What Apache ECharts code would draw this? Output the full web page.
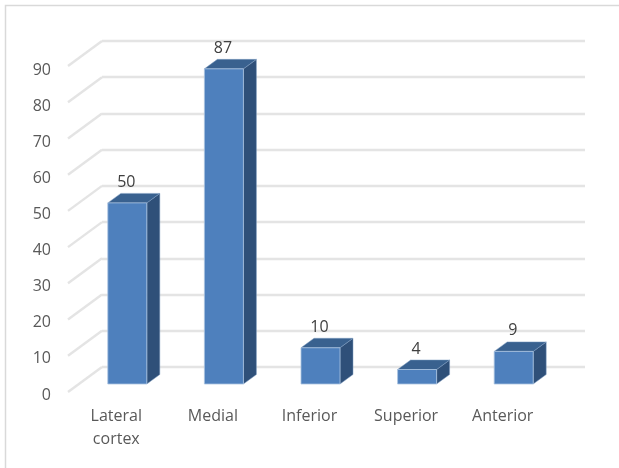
<!DOCTYPE html>
<html>
<head>
<meta charset="utf-8">
<style>html,body{margin:0;padding:0;background:#fff}#c{width:619px;height:468px}</style>
<script src="https://cdn.jsdelivr.net/npm/echarts@6/dist/echarts.min.js"></script>
</head>
<body>
<div id="c"></div>
<script>
// Pseudo-3D column chart: a back wall grid, a front grid for the labels, and extruded bars.
const categories = ['Lateral\ncortex', 'Medial', 'Inferior', 'Superior', 'Anterior'];
const counts = [50, 87, 10, 4, 9];
const ticks = [0, 10, 20, 30, 40, 50, 60, 70, 80, 90];

const FLOOR_DX = 34, FLOOR_DY = 25;   // floor depth from the front plane to the back wall
const BAR_DX = 23, BAR_DY = 17;       // bar front face relative to the back wall
const DEPTH_DX = 13, DEPTH_DY = 9.5;  // extrusion of each bar
const BAR_W = 39;

function renderSlant(params, api) {
  const p = api.coord([0, api.value(0)]);
  const x = params.coordSys.x;
  return {
    type: 'line', silent: true,
    shape: { x1: x - FLOOR_DX, y1: p[1] + FLOOR_DY, x2: x, y2: p[1] },
    style: { stroke: '#e4e4e4', lineWidth: 2.4, fill: null }
  };
}

function renderBar(params, api) {
  const top = api.coord([api.value(0), api.value(1)]);
  const base = api.coord([api.value(0), 0]);
  const l = top[0] - BAR_DX - BAR_W / 2, r = l + BAR_W;
  const t = top[1] + BAR_DY, b = base[1] + BAR_DY;
  const dx = DEPTH_DX, dy = DEPTH_DY;
  return {
    type: 'group',
    children: [
      { type: 'polygon', shape: { points: [[r, t], [r + dx, t - dy], [r + dx, b - dy], [r, b]] },
        style: { fill: '#2f5079', stroke: '#7f9cc0', lineWidth: 0.5 } },
      { type: 'polygon', shape: { points: [[l, t], [l + dx, t - dy], [r + dx, t - dy], [r, t]] },
        style: { fill: '#39618f', stroke: '#7f9cc0', lineWidth: 0.5 } },
      { type: 'rect', shape: { x: l, y: t, width: BAR_W, height: b - t },
        style: { fill: '#4e80bd', stroke: '#a9c3e0', lineWidth: 0.8 } },
      { type: 'text', x: l + BAR_W / 2 - 1, y: t - dy - 11,
        style: { text: String(api.value(1)), fill: '#404040', fontSize: 16,
                 fontFamily: 'Open Sans', align: 'center', verticalAlign: 'middle' } }
    ]
  };
}

const chart = echarts.init(document.getElementById('c'), null, { renderer: 'canvas' });
chart.setOption({
  animation: false,
  backgroundColor: '#fff',
  graphic: [{
    type: 'polyline', silent: true,
    shape: { points: [[5.5, 468], [5.5, 5.5], [619, 5.5]] },
    style: { stroke: '#d9d9d9', lineWidth: 1.5, fill: null }
  }],
  grid: [
    { left: 102, top: 41, width: 483, height: 326 },
    { left: 68, top: 70, width: 483, height: 325 }
  ],
  xAxis: [
    { type: 'category', gridIndex: 0, data: categories, axisLine: { show: false },
      axisTick: { show: false }, axisLabel: { show: false } },
    { type: 'category', gridIndex: 1, data: categories, axisLine: { show: false },
      axisTick: { show: false },
      axisLabel: { color: '#595959', fontSize: 16, fontFamily: 'Open Sans', margin: 10, lineHeight: 23, interval: 0 } }
  ],
  yAxis: [
    { type: 'value', gridIndex: 0, min: 0, max: 90, interval: 10,
      axisLine: { show: false }, axisTick: { show: false }, axisLabel: { show: false },
      splitLine: { lineStyle: { color: '#e4e4e4', width: 2.4 } } },
    { type: 'value', gridIndex: 1, min: 0, max: 90, interval: 10,
      axisLine: { show: false }, axisTick: { show: false }, splitLine: { show: false },
      axisLabel: { color: '#595959', fontSize: 16, fontFamily: 'Open Sans', margin: 17 } }
  ],
  series: [
    { type: 'custom', xAxisIndex: 0, yAxisIndex: 0, coordinateSystem: 'cartesian2d',
      clip: false, silent: true, z: 1,
      data: ticks.map(t => [t]), encode: { y: 0 }, renderItem: renderSlant },
    { type: 'custom', xAxisIndex: 0, yAxisIndex: 0, coordinateSystem: 'cartesian2d',
      clip: false, silent: true, z: 3,
      data: counts.map((v, i) => [i, v]), encode: { x: 0, y: 1 }, renderItem: renderBar }
  ]
});
</script>
</body>
</html>
